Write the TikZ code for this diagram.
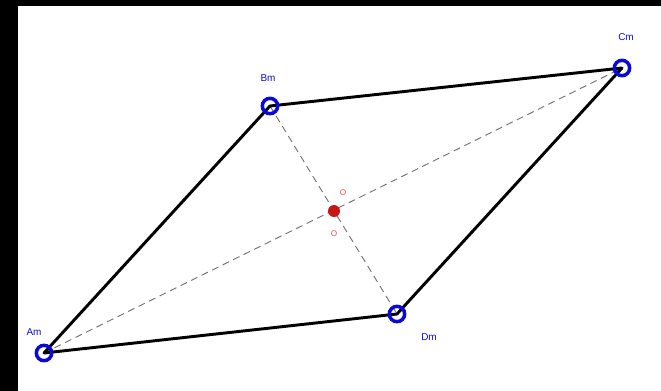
\documentclass[tikz,border=0pt]{standalone}
\usepackage{fontspec}
\setmainfont{Liberation Sans}
\definecolor{ptblue}{RGB}{10,10,215}
\definecolor{ptred}{RGB}{200,20,20}
\definecolor{lblred}{RGB}{225,80,80}

\begin{document}
\begin{tikzpicture}[x=0.03cm,y=-0.03cm,line width=0.75pt,
  side/.style={line width=2.5pt,line join=round},
  diag/.style={gray!90!black,line width=0.8pt,dash pattern=on 6pt off 4pt},
  ring/.style={circle,draw=ptblue,line width=3pt,minimum size=0.46cm,inner sep=0pt},
  ptlabel/.style={text=ptblue,font=\fontsize{8.5}{9}\selectfont}]
  \useasboundingbox (0,0) rectangle (661,391);
  \fill[black] (0,0) rectangle (18,391);
  \fill[black] (0,0) rectangle (661,6);

  \coordinate (Am) at (44,353);
  \coordinate (Bm) at (270,106);
  \coordinate (Cm) at (622,68);
  \coordinate (Dm) at (397,314);
  \coordinate (O) at (334,211);

  \draw[diag] (Am) -- (Cm);
  \draw[diag] (Bm) -- (Dm);
  \draw[side] (Am) -- (Bm) -- (Cm) -- (Dm) -- cycle;

  \foreach \p in {Am,Bm,Cm,Dm}
    \node[ring] (ring\p) at (\p) {};
  \fill[ptred] (O) circle (6);

  \node[ptlabel] (lblAm) at (34,332) {Am};
  \node[ptlabel] (lblBm) at (268,78) {Bm};
  \node[ptlabel] (lblCm) at (626,37) {Cm};
  \node[ptlabel] (lblDm) at (429,337) {Dm};
  \node[text=lblred,font=\fontsize{7}{8}\selectfont] (lblO1) at (343,193) {O};
  \node[text=lblred,font=\fontsize{7}{8}\selectfont] (lblO2) at (334,234) {O};
\end{tikzpicture}
\end{document}
